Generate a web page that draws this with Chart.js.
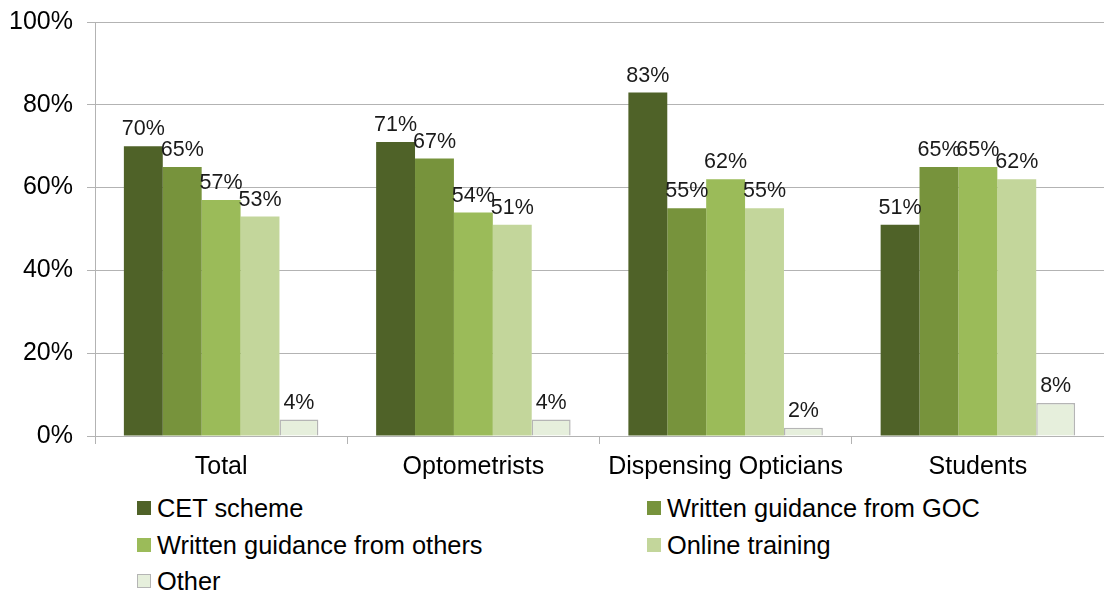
<!DOCTYPE html>
<html>
<head>
<meta charset="utf-8">
<script src="https://cdn.jsdelivr.net/npm/chart.js@4.4.1/dist/chart.umd.min.js"></script>
<style>
  body { margin: 0; background: #fff; font-family: "Liberation Sans", Arial, sans-serif; overflow: hidden; }
  #wrap { position: relative; width: 1104px; height: 592px; overflow: hidden; }
  #chartBox { position: absolute; left: 0; top: -7px; width: 1104px; height: 497px; }
  .leg { position: absolute; font-size: 25.4px; color: #000; line-height: 28px; white-space: nowrap; }
  .leg span.sw { display: inline-block; width: 14px; height: 14px; margin-right: 6px; vertical-align: 2px; box-sizing: border-box; }
</style>
</head>
<body>
<div id="wrap">
  <div id="chartBox"><canvas id="myChart" width="1104" height="497"></canvas></div>
  <div id="legend"></div>
</div>
<script>
const categories = ['Total', 'Optometrists', 'Dispensing Opticians', 'Students'];
const seriesNames = ['CET scheme', 'Written guidance from GOC', 'Written guidance from others', 'Online training', 'Other'];
const cetScheme = [70, 71, 83, 51];
const guidanceGoc = [65, 67, 55, 65];
const guidanceOthers = [57, 54, 62, 65];
const onlineTraining = [53, 51, 55, 62];
const other = [4, 4, 2, 8];
const yTicks = [0, 20, 40, 60, 80, 100];

const colors = ['#4f6228', '#77933c', '#9bbb59', '#c3d69b', '#e6efdc'];
const borders = ['#4f6228', '#77933c', '#9bbb59', '#c3d69b', '#b5b5b5'];
const allValues = [cetScheme, guidanceGoc, guidanceOthers, onlineTraining, other];

const datasets = allValues.map((vals, i) => ({
    label: seriesNames[i],
    data: vals,
    backgroundColor: colors[i],
    borderColor: borders[i],
    borderWidth: i === 4 ? 1.5 : 0,
    categoryPercentage: 0.771,
    barPercentage: 1.0
}));

// draws the value above each bar
const valueLabels = {
    id: 'valueLabels',
    afterDatasetsDraw(chart) {
        const ctx = chart.ctx;
        ctx.save();
        ctx.font = '21.5px "Liberation Sans", Arial, sans-serif';
        ctx.fillStyle = '#1a1a1a';
        ctx.textAlign = 'center';
        ctx.textBaseline = 'bottom';
        chart.data.datasets.forEach((ds, i) => {
            chart.getDatasetMeta(i).data.forEach((bar, j) => {
                ctx.fillText(ds.data[j] + '%', bar.x, bar.y - 6);
            });
        });
        ctx.restore();
    }
};

const gridGray = '#b3b3b3';
const ctx = document.getElementById('myChart').getContext('2d');
new Chart(ctx, {
    type: 'bar',
    data: { labels: categories, datasets: datasets },
    plugins: [valueLabels],
    options: {
        responsive: false,
        animation: false,
        layout: { padding: { top: 10, right: 0, bottom: 0, left: 0 } },
        plugins: {
            legend: { display: false },
            tooltip: { enabled: false }
        },
        scales: {
            x: {
                offset: true,
                grid: { offset: true, drawOnChartArea: false, color: gridGray, tickLength: 8 },
                border: { color: gridGray, width: 1 },
                ticks: {
                    color: '#000',
                    font: { family: '"Liberation Sans", Arial, sans-serif', size: 25 },
                    padding: 8
                },
                afterFit(scale) { scale.height = 54; }
            },
            y: {
                min: 0,
                max: 100,
                afterBuildTicks(scale) { scale.ticks = yTicks.map(v => ({ value: v })); },
                grid: { color: gridGray, tickLength: 8 },
                border: { color: gridGray, width: 1 },
                ticks: {
                    color: '#000',
                    font: { family: '"Liberation Sans", Arial, sans-serif', size: 25 },
                    padding: 14,
                    callback: v => v + '%'
                },
                afterFit(scale) { scale.width = 95; }
            }
        }
    }
});

// two-column legend under the chart
const legendPos = [
    [137, 494], [647, 494],
    [137, 531], [647, 531],
    [137, 567]
];
const legend = document.getElementById('legend');
seriesNames.forEach((name, i) => {
    const d = document.createElement('div');
    d.className = 'leg';
    d.style.left = legendPos[i][0] + 'px';
    d.style.top = legendPos[i][1] + 'px';
    const sw = document.createElement('span');
    sw.className = 'sw';
    sw.style.background = colors[i];
    if (i === 4) sw.style.border = '1px solid #b5b5b5';
    d.appendChild(sw);
    d.appendChild(document.createTextNode(name));
    legend.appendChild(d);
});
</script>
</body>
</html>
